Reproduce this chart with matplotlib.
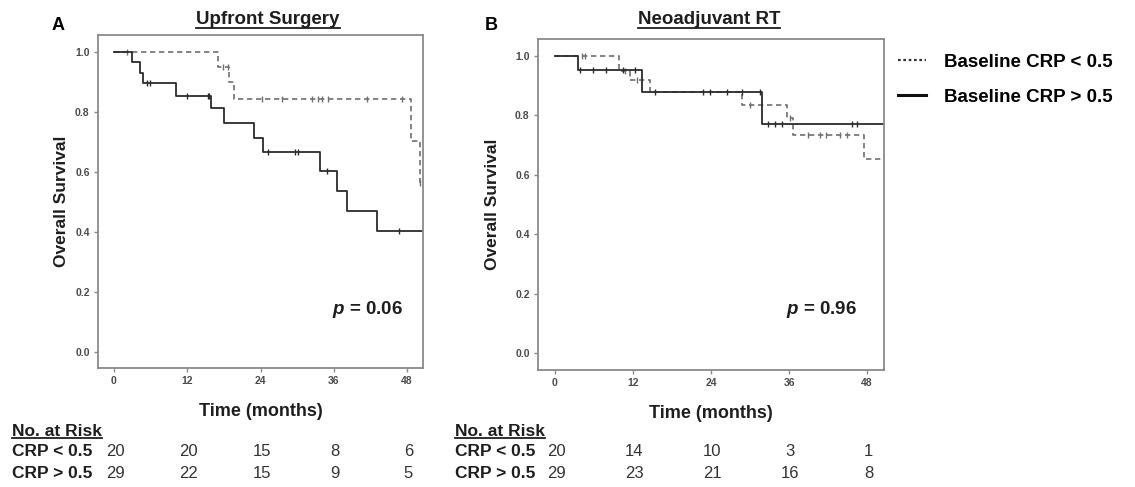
import numpy as np
import matplotlib
matplotlib.use("Agg")
import matplotlib.pyplot as plt
from matplotlib.lines import Line2D
from matplotlib.transforms import blended_transform_factory

plt.rcParams['font.family'] = ['Liberation Sans', 'DejaVu Sans']
plt.rcParams['mathtext.fontset'] = 'custom'
plt.rcParams['mathtext.it'] = 'Liberation Sans:italic:bold'
plt.rcParams['mathtext.rm'] = 'Liberation Sans:bold'

# ---- data ----
# panel A: upfront surgery
a_hi_t = [0, 2.9, 4.3, 4.8, 10.1, 15.9, 18.0, 23.0, 24.4, 33.8, 36.6, 38.2, 43.1, 51.0]
a_hi_s = [1.0, 0.966, 0.931, 0.897, 0.853, 0.813, 0.762, 0.713, 0.667, 0.603, 0.537, 0.470, 0.403, 0.403]
a_hi_cens = [5.5, 5.9, 12.0, 15.4, 15.6, 25.3, 29.6, 30.2, 34.9, 46.7]

a_lo_t = [0, 17.0, 18.9, 19.6, 48.6, 50.1]
a_lo_s = [1.0, 0.95, 0.90, 0.843, 0.703, 0.563]
a_lo_cens = [2.2, 17.8, 18.6, 24.2, 27.6, 32.5, 33.4, 34.1, 35.0, 41.5, 47.2, 50.1]

# panel B: neoadjuvant RT
b_hi_t = [0, 3.5, 13.4, 31.8, 51.0]
b_hi_s = [1.0, 0.953, 0.88, 0.771, 0.771]
b_hi_cens = [3.8, 5.8, 7.8, 10.5, 12.3, 15.4, 22.8, 23.8, 26.4, 28.8, 31.5,
             32.8, 33.8, 34.9, 45.7, 46.5]

b_lo_t = [0, 9.8, 11.5, 14.6, 28.8, 35.7, 36.6, 47.5, 51.0]
b_lo_s = [1.0, 0.95, 0.92, 0.88, 0.835, 0.79, 0.734, 0.653, 0.653]
b_lo_cens = [4.1, 4.6, 10.8, 12.6, 30.0, 36.2, 38.9, 40.8, 41.7, 43.8, 44.9]

risk_times = [0, 12, 24, 36, 48]
a_risk_lo = [20, 20, 15, 8, 6]
a_risk_hi = [29, 22, 15, 9, 5]
b_risk_lo = [20, 14, 10, 3, 1]
b_risk_hi = [29, 23, 21, 16, 8]

W, H = 1135, 487
fig = plt.figure(figsize=(W / 100, H / 100), dpi=100)

def px_axes(l, t, r, b):
    return fig.add_axes([l / W, 1 - b / H, (r - l) / W, (b - t) / H])

axA = px_axes(98, 35, 423, 368)
axB = px_axes(538, 39, 884, 370)

hi_style = dict(color='#2b2b2b', lw=1.3)
lo_style = dict(color='#707070', lw=1.2, dashes=(3.2, 2.2))


def km(ax, t, s, cens, style):
    ax.step(t, s, where='post', **style)
    t = np.array(t)
    s = np.array(s)
    idx = np.searchsorted(t, cens, side='right') - 1
    ax.plot(cens, s[idx], ls='none', marker='|', ms=4, mew=1.0,
            color=style['color'])


def style_ax(ax, ylim, ypad):
    ax.set_xlim(-2.6, 50.6)
    ax.set_ylim(*ylim)
    ax.set_xticks(risk_times)
    ax.set_yticks([0, 0.2, 0.4, 0.6, 0.8, 1.0])
    ax.set_yticklabels(['0.0', '0.2', '0.4', '0.6', '0.8', '1.0'])
    for sp in ax.spines.values():
        sp.set_color('#8a8a8a')
        sp.set_linewidth(1.3)
    ax.tick_params(direction='out', length=3, width=1, color='#8a8a8a',
                   labelsize=7.5, labelcolor='#4a4a4a', pad=3)
    for lab in ax.get_xticklabels() + ax.get_yticklabels():
        lab.set_fontweight('bold')
    ax.set_ylabel('Overall Survival', fontsize=12.5, fontweight='bold',
                  color='#1e1e1e', labelpad=ypad)
    ax.set_xlabel('Time (months)', fontsize=13, fontweight='bold',
                  color='#1e1e1e', labelpad=12)


km(axA, a_lo_t, a_lo_s, a_lo_cens, lo_style)
km(axA, a_hi_t, a_hi_s, a_hi_cens, hi_style)
km(axB, b_lo_t, b_lo_s, b_lo_cens, lo_style)
km(axB, b_hi_t, b_hi_s, b_hi_cens, hi_style)
style_ax(axA, (-0.053, 1.057), 4)
style_ax(axB, (-0.057, 1.057), 11)

axA.text(368 / W, 1 - 310 / H, r'$p$ = 0.06', transform=fig.transFigure,
         ha='center', va='center', fontsize=13.5, fontweight='bold', color='#1e1e1e')
axB.text(822 / W, 1 - 310 / H, r'$p$ = 0.96', transform=fig.transFigure,
         ha='center', va='center', fontsize=13.5, fontweight='bold', color='#1e1e1e')

fig.text(58 / W, 1 - 25 / H, 'A', fontsize=13, fontweight='bold', ha='center', va='center')
fig.text(491 / W, 1 - 25 / H, 'B', fontsize=13, fontweight='bold', ha='center', va='center')

underlined = []
underlined.append(fig.text(268 / W, 1 - 20 / H, 'Upfront Surgery', fontsize=13.5,
                           fontweight='bold', ha='center', va='center', color='#1e1e1e'))
underlined.append(fig.text(709 / W, 1 - 20 / H, 'Neoadjuvant RT', fontsize=13.5,
                           fontweight='bold', ha='center', va='center', color='#1e1e1e'))

# number at risk tables
for ax, x0, lo, hi in [(axA, 12, a_risk_lo, a_risk_hi), (axB, 455, b_risk_lo, b_risk_hi)]:
    underlined.append(fig.text(x0 / W, 1 - 431 / H, 'No. at Risk', fontsize=12.5,
                               fontweight='bold', ha='left', va='center', color='#1e1e1e'))
    fig.text(x0 / W, 1 - 452 / H, 'CRP < 0.5', fontsize=12.5, fontweight='bold',
             ha='left', va='center', color='#1e1e1e')
    fig.text(x0 / W, 1 - 473 / H, 'CRP > 0.5', fontsize=12.5, fontweight='bold',
             ha='left', va='center', color='#1e1e1e')
    tr = blended_transform_factory(ax.transData, fig.transFigure)
    for t, n1, n2 in zip(risk_times, lo, hi):
        ax.text(t + 0.2, 1 - 452 / H, str(n1), transform=tr, fontsize=12,
                ha='center', va='center', color='#333333', clip_on=False)
        ax.text(t + 0.2, 1 - 473 / H, str(n2), transform=tr, fontsize=12,
                ha='center', va='center', color='#333333', clip_on=False)

# legend
handles = [Line2D([], [], color='#333333', lw=1.6, ls=(0, (1.2, 1.2))),
           Line2D([], [], color='#111111', lw=2.2)]
fig.legend(handles, ['Baseline CRP < 0.5', 'Baseline CRP > 0.5'],
           loc='upper left', bbox_to_anchor=(890 / W, 1 - 46 / H), frameon=False,
           prop=dict(size=13.5, weight='bold'), handlelength=1.5, handletextpad=1.0,
           labelspacing=0.95, borderaxespad=0)

# underline titles
fig.canvas.draw()
r = fig.canvas.get_renderer()
for t in underlined:
    bb = t.get_window_extent(r)
    y = bb.y0 + 1
    fig.add_artist(Line2D([bb.x0 / W, bb.x1 / W], [y / H, y / H], color='#1e1e1e',
                          lw=1.3, transform=fig.transFigure))

fig.savefig('out.png', dpi=100)
